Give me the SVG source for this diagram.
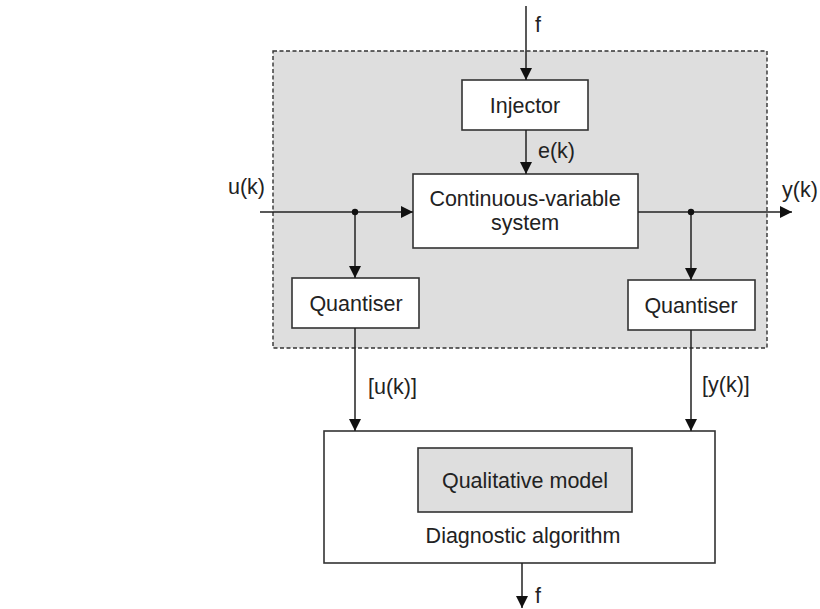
<svg xmlns="http://www.w3.org/2000/svg" width="820" height="609" viewBox="0 0 820 609">
<style>
.box{fill:#fff;stroke:#333;stroke-width:1.6}
.grey{fill:#dedede;stroke:#333;stroke-width:1.6}
.dash{fill:#dedede;stroke:#333;stroke-width:1.4;stroke-dasharray:4 2.5}
.ln{fill:none;stroke:#222;stroke-width:1.5}
text{font-family:"Liberation Sans",Arial,Helvetica,sans-serif;font-size:21.5px;fill:#222}
.c{text-anchor:middle}
</style>
<defs>
<marker id="arr" markerWidth="12" markerHeight="12" refX="12" refY="6" orient="auto" markerUnits="userSpaceOnUse">
<path d="M0,0 L12,6 L0,12 Z" fill="#111"/>
</marker>
</defs>
<rect width="820" height="609" fill="#fff"/>
<g id="boundary">
<rect class="dash" x="273" y="51" width="494" height="297"/>
</g>
<g id="injector">
<rect class="box" x="462" y="80" width="126" height="50"/>
<text class="c" x="525" y="113">Injector</text>
</g>
<g id="system">
<rect class="box" x="413" y="174" width="225" height="74"/>
<text class="c" x="525" y="206">Continuous-variable</text>
<text class="c" x="525" y="230">system</text>
</g>
<g id="quantiser-u">
<rect class="box" x="292" y="278" width="127" height="50"/>
<text class="c" x="356" y="311">Quantiser</text>
</g>
<g id="quantiser-y">
<rect class="box" x="628" y="280" width="127" height="50"/>
<text class="c" x="691" y="313">Quantiser</text>
</g>
<g id="diagnostic">
<rect class="box" x="324" y="431" width="391" height="132"/>
<g id="qualitative">
<rect class="grey" x="418" y="448" width="214" height="64"/>
<text class="c" x="525" y="488">Qualitative model</text>
</g>
<text class="c" x="523" y="543">Diagnostic algorithm</text>
</g>
<g id="connectors">
<line class="ln" x1="526" y1="6" x2="526" y2="80" marker-end="url(#arr)"/>
<line class="ln" x1="526" y1="130" x2="526" y2="174" marker-end="url(#arr)"/>
<line class="ln" x1="260" y1="212" x2="413" y2="212" marker-end="url(#arr)"/>
<line class="ln" x1="355" y1="212" x2="355" y2="278" marker-end="url(#arr)"/>
<circle cx="355" cy="212" r="3.2" fill="#111"/>
<line class="ln" x1="638" y1="212" x2="792" y2="212" marker-end="url(#arr)"/>
<line class="ln" x1="691" y1="212" x2="691" y2="280" marker-end="url(#arr)"/>
<circle cx="691" cy="212" r="3.2" fill="#111"/>
<line class="ln" x1="355" y1="328" x2="355" y2="431" marker-end="url(#arr)"/>
<line class="ln" x1="691" y1="330" x2="691" y2="431" marker-end="url(#arr)"/>
<line class="ln" x1="522" y1="563" x2="522" y2="608" marker-end="url(#arr)"/>
</g>
<g id="labels">
<text x="535" y="32">f</text>
<text x="538" y="158">e(k)</text>
<text x="228" y="194">u(k)</text>
<text x="782" y="197">y(k)</text>
<text x="368" y="394">[u(k)]</text>
<text x="702" y="392">[y(k)]</text>
<text x="535" y="603">f</text>
</g>
</svg>
